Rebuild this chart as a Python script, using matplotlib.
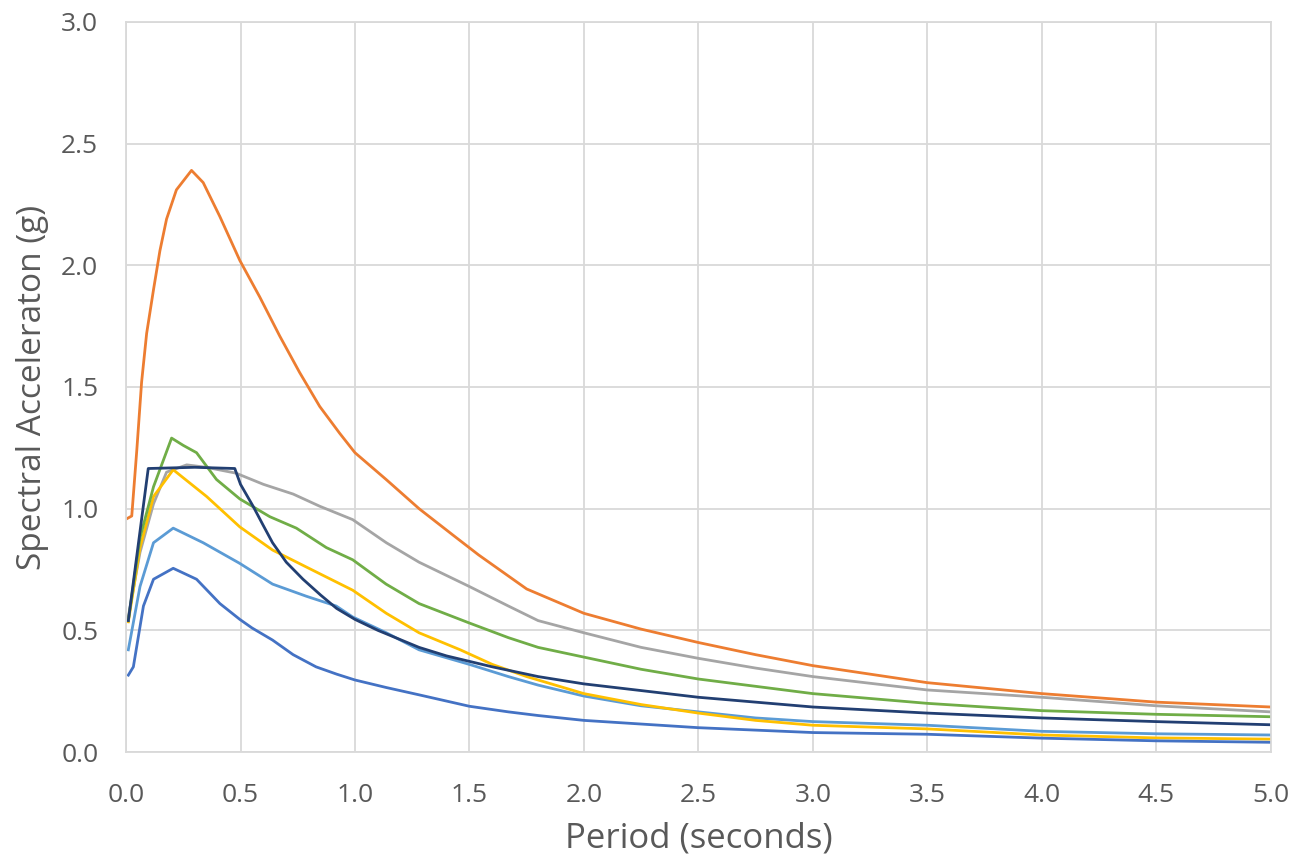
import matplotlib
matplotlib.use("Agg")
import matplotlib.pyplot as plt
from matplotlib.ticker import MultipleLocator, FormatStrFormatter

# ground motion spectra (period s, Sa g)
t_orange = [0.006, 0.025, 0.047, 0.068, 0.09, 0.12, 0.148, 0.177, 0.22, 0.286, 0.337, 0.41, 0.497, 0.584,
            0.671, 0.758, 0.846, 0.933, 1.0, 1.136, 1.28, 1.43, 1.54, 1.75, 2.0, 2.25, 2.5, 2.75, 3.0,
            3.25, 3.5, 4.0, 4.5, 5.0]
sa_orange = [0.96, 0.97, 1.24, 1.52, 1.72, 1.90, 2.06, 2.19, 2.31, 2.39, 2.34, 2.20, 2.02, 1.87,
             1.71, 1.56, 1.42, 1.31, 1.23, 1.12, 1.00, 0.89, 0.81, 0.67, 0.57, 0.505, 0.45, 0.40, 0.355,
             0.32, 0.285, 0.24, 0.205, 0.185]

t_gray = [0.01, 0.061, 0.12, 0.177, 0.265, 0.35, 0.48, 0.60, 0.73, 0.846, 0.99, 1.137, 1.28, 1.5, 1.67,
          1.8, 2.0, 2.25, 2.5, 2.75, 3.0, 3.5, 4.0, 4.5, 5.0]
sa_gray = [0.556, 0.82, 1.02, 1.15, 1.18, 1.17, 1.146, 1.10, 1.06, 1.01, 0.955, 0.86, 0.78, 0.68, 0.60,
           0.54, 0.49, 0.43, 0.385, 0.345, 0.31, 0.255, 0.225, 0.19, 0.165]

t_green = [0.01, 0.061, 0.12, 0.199, 0.25, 0.308, 0.395, 0.497, 0.628, 0.744, 0.875, 0.99, 1.136, 1.28,
           1.5, 1.67, 1.8, 2.0, 2.25, 2.5, 2.75, 3.0, 3.5, 4.0, 4.5, 5.0]
sa_green = [0.54, 0.88, 1.09, 1.29, 1.26, 1.23, 1.12, 1.04, 0.967, 0.92, 0.84, 0.79, 0.69, 0.61,
            0.53, 0.47, 0.43, 0.39, 0.34, 0.30, 0.27, 0.24, 0.20, 0.17, 0.155, 0.145]

t_yellow = [0.01, 0.061, 0.12, 0.206, 0.352, 0.497, 0.64, 0.788, 0.99, 1.137, 1.28, 1.46, 1.6, 1.75,
            2.0, 2.25, 2.5, 2.75, 3.0, 3.5, 4.0, 4.5, 5.0]
sa_yellow = [0.535, 0.84, 1.05, 1.16, 1.05, 0.925, 0.83, 0.76, 0.665, 0.57, 0.49, 0.42, 0.36, 0.31,
             0.24, 0.195, 0.16, 0.13, 0.11, 0.095, 0.07, 0.058, 0.053]

t_lblue = [0.01, 0.061, 0.12, 0.206, 0.337, 0.497, 0.64, 0.788, 0.918, 0.99, 1.137, 1.28, 1.5, 1.67,
           1.8, 2.0, 2.25, 2.5, 2.75, 3.0, 3.5, 4.0, 4.5, 5.0]
sa_lblue = [0.42, 0.68, 0.86, 0.92, 0.86, 0.775, 0.69, 0.64, 0.60, 0.555, 0.49, 0.42, 0.36, 0.31,
            0.275, 0.23, 0.19, 0.165, 0.14, 0.125, 0.11, 0.085, 0.075, 0.07]

t_blue = [0.01, 0.032, 0.076, 0.12, 0.206, 0.308, 0.41, 0.497, 0.55, 0.64, 0.73, 0.83, 0.92, 1.0, 1.137,
          1.28, 1.5, 1.67, 1.8, 2.0, 2.25, 2.5, 3.0, 3.5, 4.0, 4.5, 5.0]
sa_blue = [0.316, 0.35, 0.60, 0.71, 0.755, 0.71, 0.61, 0.545, 0.51, 0.46, 0.40, 0.35, 0.32, 0.296, 0.265,
           0.235, 0.188, 0.165, 0.15, 0.13, 0.115, 0.10, 0.08, 0.073, 0.057, 0.046, 0.04]

# design spectrum
t_design = [0.01, 0.097, 0.3, 0.475, 0.5, 0.555, 0.6, 0.64, 0.7, 0.773, 0.85, 0.92, 1.0, 1.1, 1.28, 1.4,
            1.6, 1.8, 2.0, 2.5, 3.0, 3.5, 4.0, 4.5, 5.0]
sa_design = [0.54, 1.165, 1.17, 1.165, 1.10, 1.01, 0.93, 0.86, 0.78, 0.71, 0.645, 0.59, 0.545, 0.50, 0.43, 0.395,
             0.35, 0.31, 0.28, 0.225, 0.185, 0.16, 0.14, 0.125, 0.112]

fig = plt.figure(figsize=(12.94, 8.64), dpi=100)
ax = fig.add_axes([0.0974, 0.1296, 0.8846, 0.845])

lw = 2.0
ax.plot(t_lblue, sa_lblue, color='#5B9BD5', lw=lw)
ax.plot(t_orange, sa_orange, color='#ED7D31', lw=lw)
ax.plot(t_gray, sa_gray, color='#A5A5A5', lw=lw)
ax.plot(t_yellow, sa_yellow, color='#FFC000', lw=lw)
ax.plot(t_blue, sa_blue, color='#4472C4', lw=lw)
ax.plot(t_green, sa_green, color='#70AD47', lw=lw)
ax.plot(t_design, sa_design, color='#223F72', lw=lw)

ax.set_xlim(0, 5)
ax.set_ylim(0, 3)
ax.xaxis.set_major_locator(MultipleLocator(0.5))
ax.yaxis.set_major_locator(MultipleLocator(0.5))
ax.xaxis.set_major_formatter(FormatStrFormatter('%.1f'))
ax.yaxis.set_major_formatter(FormatStrFormatter('%.1f'))
ax.grid(True, color='#D9D9D9', lw=1.3)
ax.set_axisbelow(True)
for s in ax.spines.values():
    s.set_color('#D9D9D9')
    s.set_linewidth(1.3)
ax.tick_params(length=0, labelsize=19, labelcolor='#595959')
ax.tick_params(axis='x', pad=22)
ax.tick_params(axis='y', pad=20)
for lab in ax.get_xticklabels() + ax.get_yticklabels():
    lab.set_fontfamily('Open Sans')

ax.set_xlabel('Period (seconds)', fontsize=25, color='#595959', family='Open Sans', labelpad=10)
ax.set_ylabel('Spectral Acceleraton (g)', fontsize=24, color='#595959', family='Open Sans', labelpad=9)

fig.savefig('out.png', dpi=100)
